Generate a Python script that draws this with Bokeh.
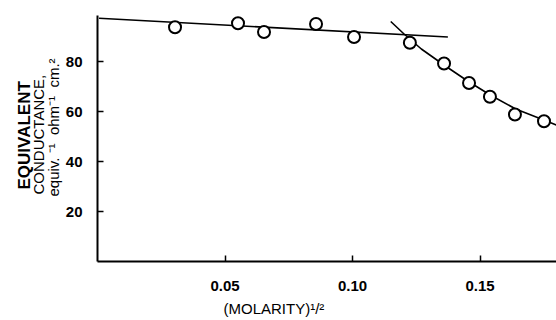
from bokeh.plotting import figure
from bokeh.models import Range1d, Title, FixedTicker
from bokeh.embed import file_html
from bokeh.resources import INLINE

# measured points: sqrt(molarity) vs equivalent conductance
sqrt_m = [0.0304, 0.0551, 0.0653, 0.0857, 0.1006, 0.1225, 0.1359, 0.1457, 0.1539, 0.1637, 0.1751]
conductance = [93.7, 95.3, 91.8, 95.0, 89.8, 87.5, 79.2, 71.4, 65.9, 58.8, 56.1]

# straight line (low concentration)
line_x = [0.0006, 0.1374]
line_y = [97.3, 89.8]

# curved fit (high concentration)
curve_x = [0.115, 0.120, 0.127, 0.136, 0.145, 0.154, 0.164, 0.175, 0.181]
curve_y = [96.0, 91.2, 85.0, 78.5, 72.3, 66.6, 61.0, 56.6, 54.2]

x_ticks = [0.05, 0.10, 0.15]
y_ticks = [20, 40, 60, 80]

FONT = "Liberation Sans"

p = figure(width=556, height=320, output_backend="svg", toolbar_location=None,
           x_range=Range1d(0, 0.18), y_range=Range1d(0, 98.4),
           min_border_left=97, min_border_right=0, min_border_top=15, min_border_bottom=54)
p.outline_line_color = None
p.xgrid.visible = False
p.ygrid.visible = False
p.background_fill_color = "white"
p.border_fill_color = "white"

p.line(line_x, line_y, line_color="black", line_width=1.6)
p.line(curve_x, curve_y, line_color="black", line_width=1.6)
p.scatter(sqrt_m, conductance, marker="circle", size=12, fill_color="white",
          line_color="black", line_width=2)

for ax, ticks in ((p.xaxis[0], x_ticks), (p.yaxis[0], y_ticks)):
    ax.ticker = FixedTicker(ticks=ticks)
    ax.axis_line_width = 2
    ax.axis_line_color = "black"
    ax.major_tick_in = 6
    ax.major_tick_out = 0
    ax.major_tick_line_width = 1.5
    ax.minor_tick_line_color = None
    ax.major_label_text_font = FONT
    ax.major_label_text_font_size = "15px"
    ax.major_label_text_font_style = "bold"
    ax.major_label_text_color = "black"

p.xaxis[0].major_label_overrides = {0.05: "0.05", 0.10: "0.10", 0.15: "0.15"}
p.xaxis[0].major_label_standoff = 19
p.yaxis[0].major_label_standoff = 15

# y axis title: three rotated lines (innermost first)
ylines = [("equiv.\u00a0\u207b\u00b9\u00a0\u00a0ohm\u207b\u00b9\u00a0\u00a0cm.\u00b2", "15px", "normal", 2, 65),
          ("CONDUCTANCE,", "15px", "normal", -10, 67),
          ("EQUIVALENT", "17px", "bold", -3, 72)]
for txt, fs, st, so, off in ylines:
    p.add_layout(Title(text=txt, align="left", offset=off, text_font=FONT, text_font_size=fs,
                       text_font_style=st, text_color="black", standoff=so), "left")

# x axis title
p.add_layout(Title(text="(MOLARITY)\u00b9/\u00b2", align="left", offset=126,
                   text_font=FONT, text_font_size="15px", text_font_style="normal",
                   text_color="black", standoff=8), "below")

open("out.html", "w").write(file_html(p, INLINE))
